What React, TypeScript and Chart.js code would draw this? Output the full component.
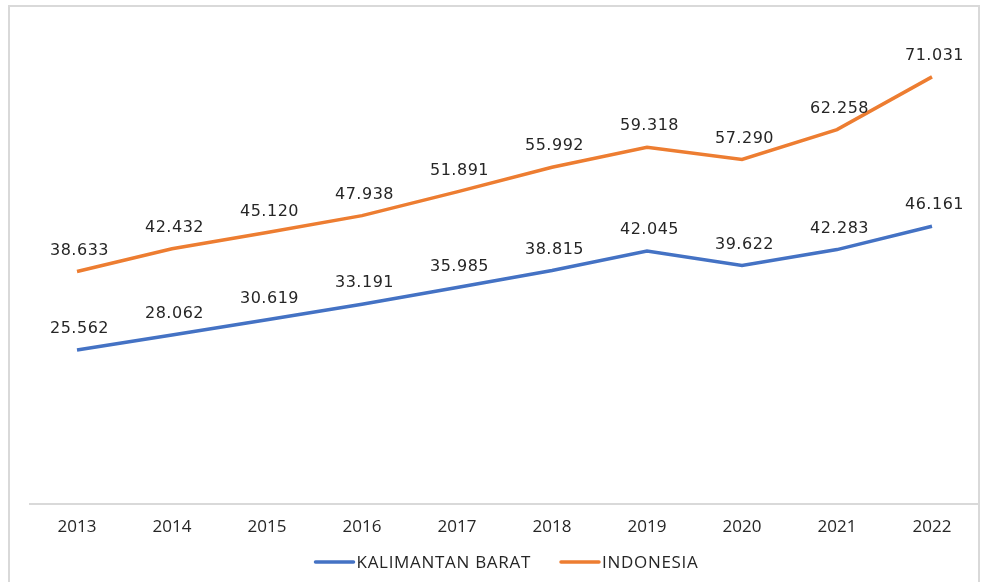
import React, { useEffect, useRef } from "react";
import { Chart, registerables } from "chart.js";

Chart.register(...registerables);

const years = ["2013", "2014", "2015", "2016", "2017", "2018", "2019", "2020", "2021", "2022"];
const kalbar = [25562, 28062, 30619, 33191, 35985, 38815, 42045, 39622, 42283, 46161];
const indonesia = [38633, 42432, 45120, 47938, 51891, 55992, 59318, 57290, 62258, 71031];
const seriesNames = ["KALIMANTAN BARAT", "INDONESIA"];
const seriesColors = ["#4472C4", "#ED7D31"];

const fmt = (v: number) => {
  const s = String(v);
  return s.length > 3 ? s.slice(0, s.length - 3) + "." + s.slice(s.length - 3) : s;
};

const spacingPlugin = {
  id: "spacing",
  beforeInit(chart: any) {
    chart.ctx.letterSpacing = "0.6px";
  },
};

const labelPlugin = {
  id: "valueLabels",
  afterDatasetsDraw(chart: any) {
    const ctx = chart.ctx;
    ctx.save();
    ctx.letterSpacing = "0.5px";
    ctx.font = "16px 'DejaVu Sans'";
    ctx.fillStyle = "#262626";
    ctx.textAlign = "center";
    ctx.textBaseline = "middle";
    chart.data.datasets.forEach((ds: any, i: number) => {
      const meta = chart.getDatasetMeta(i);
      meta.data.forEach((pt: any, j: number) => {
        ctx.fillText(fmt(ds.data[j]), pt.x + 2.5, pt.y - 21);
      });
    });
    ctx.restore();
  },
};

const legendPlugin = {
  id: "customLegend",
  afterDraw(chart: any) {
    const ctx = chart.ctx;
    ctx.save();
    ctx.letterSpacing = "0.7px";
    ctx.font = "17px 'Open Sans'";
    ctx.textBaseline = "middle";
    ctx.textAlign = "left";
    const lineW = 40;
    const gap = 2;
    const itemGap = 29;
    const widths = chart.data.datasets.map((ds: any) => ctx.measureText(ds.label).width);
    const total = widths.reduce((a: number, w: number) => a + lineW + gap + w, 0) + itemGap * (widths.length - 1);
    const cx = (chart.chartArea.left + chart.chartArea.right) / 2 + 2;
    let x = cx - total / 2;
    const y = 562;
    chart.data.datasets.forEach((ds: any, i: number) => {
      ctx.strokeStyle = ds.borderColor;
      ctx.lineWidth = 3.5;
      ctx.lineCap = "round";
      ctx.beginPath();
      ctx.moveTo(x + 1, y);
      ctx.lineTo(x + lineW - 1, y);
      ctx.stroke();
      ctx.fillStyle = "#262626";
      ctx.fillText(ds.label, x + lineW + gap, y + 1);
      x += lineW + gap + widths[i] + itemGap;
    });
    ctx.restore();
  },
};

export default function App() {
  const ref = useRef<HTMLCanvasElement>(null);
  useEffect(() => {
    if (!ref.current) return;
    const chart = new Chart(ref.current, {
      type: "line",
      data: {
        labels: years,
        datasets: [
          {
            label: seriesNames[0],
            data: kalbar,
            borderColor: seriesColors[0],
            backgroundColor: seriesColors[0],
            borderWidth: 3.5,
            pointRadius: 0,
            tension: 0,
          },
          {
            label: seriesNames[1],
            data: indonesia,
            borderColor: seriesColors[1],
            backgroundColor: seriesColors[1],
            borderWidth: 3.5,
            pointRadius: 0,
            tension: 0,
          },
        ],
      },
      options: {
        animation: false,
        responsive: false,
        maintainAspectRatio: false,
        layout: { padding: { left: 29.5, right: 7.5, top: 23, bottom: 32 } },
        scales: {
          x: {
            offset: true,
            grid: { display: false, drawTicks: false, offset: true },
            border: { display: true, color: "#d9d9d9", width: 2 },
            ticks: {
              color: "#262626",
              font: { family: "'Open Sans'", size: 17 },
              padding: 13,
              maxRotation: 0,
            },
          },
          y: {
            display: false,
            min: 0,
            max: 80000,
          },
        },
        plugins: {
          legend: { display: false },
          tooltip: { enabled: false },
        },
      },
      plugins: [spacingPlugin, labelPlugin, legendPlugin],
    });
    return () => chart.destroy();
  }, []);
  return (
    <div style={{ position: "absolute", left: 0, top: 0, width: 987, height: 582, background: "#fff", overflow: "hidden" }}>
      <div style={{ position: "absolute", left: 8, top: 5, width: 968, height: 600, border: "2px solid #d9d9d9" }} />
      <canvas ref={ref} width={987} height={582} style={{ position: "absolute", left: 0, top: 0 }} />
    </div>
  );
}
